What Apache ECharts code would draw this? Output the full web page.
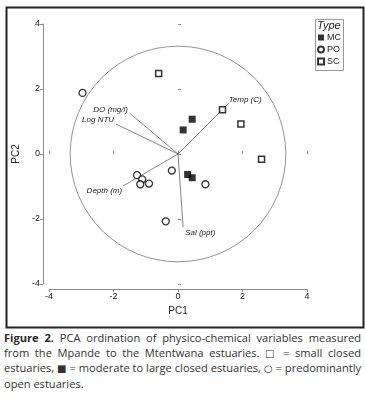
<!DOCTYPE html>
<html>
<head>
<meta charset="utf-8">
<script src="https://cdn.jsdelivr.net/npm/echarts@6/dist/echarts.min.js"></script>
<style>
  html, body { margin: 0; padding: 0; background: #fff; }
  #wrap { position: relative; width: 365px; height: 396px; }
  #chart { position: absolute; left: 0; top: 0; width: 365px; height: 330px; }
  #caption {
    position: absolute; left: 4px; top: 331px; width: 357px;
    font-family: "Open Sans", "Noto Sans", sans-serif; font-size: 11.1px;
    line-height: 14.6px; color: #333; text-align: justify;
  }
  #caption b { color: #2a2a2a; }
  #caption .sym { font-family: "DejaVu Sans", sans-serif; font-size: 10px; }
</style>
</head>
<body>
<div id="wrap">
  <div id="chart"></div>
  <div id="caption"><b>Figure 2.</b> PCA ordination of physico-chemical variables measured from the Mpande to the Mtentwana estuaries. <span class="sym">□</span> = small closed estuaries, <span class="sym">■</span> = moderate to large closed estuaries, <span class="sym">○</span> = predominantly open estuaries.</div>
</div>
<script>
// 样点坐标 (PC1, PC2)
const mcPoints = [[0.16, 0.74], [0.44, 1.07], [0.30, -0.63], [0.44, -0.73]]
const poPoints = [[-2.96, 1.88], [-1.27, -0.65], [-1.11, -0.78], [-1.17, -0.93], [-0.90, -0.91], [-0.19, -0.51], [0.85, -0.93], [-0.38, -2.07]]
const scPoints = [[-0.60, 2.48], [1.38, 1.36], [1.95, 0.92], [2.59, -0.16]]

// 环境变量向量
const vectorNames = ['Temp (C)', 'DO (mg/l)', 'Log NTU', 'Depth (m)', 'Sal (ppt)']
const vectorX = [1.57, -1.49, -1.92, -1.70, 0.16]
const vectorY = [1.56, 1.25, 0.92, -0.98, -2.26]

const circleRadius = 3.33
const axisMin = -4
const axisMax = 4
const axisStep = 2

// 标签摆放（对齐方式、偏移）
const labelPlace = [
  { align: 'left', va: 'bottom', dx: 0, dy: 0 },
  { align: 'right', va: 'bottom', dx: -2, dy: 0 },
  { align: 'right', va: 'bottom', dx: -2, dy: 0 },
  { align: 'right', va: 'top', dx: -1, dy: 1 },
  { align: 'left', va: 'top', dx: 2, dy: 1 }
]

const chart = echarts.init(document.getElementById('chart'))
const fontFam = 'Liberation Sans, Arial, sans-serif'
const tickFont = { fontFamily: fontFam, fontSize: 9, color: '#222' }

const vectorData = vectorNames.map((n, i) => [vectorX[i], vectorY[i], i])

const option = {
  animation: false,
  grid: { left: 49, top: 24, width: 258, height: 260 },
  xAxis: [
    {
      type: 'value', min: axisMin, max: axisMax, interval: axisStep, offset: 5,
      splitLine: { show: false },
      axisLine: { show: true, onZero: false, lineStyle: { color: '#8a8a8a', width: 1 } },
      axisTick: { show: true, length: 3, lineStyle: { color: '#8a8a8a' } },
      axisLabel: { ...tickFont, margin: 3 },
      name: 'PC1', nameLocation: 'middle', nameGap: 17,
      nameTextStyle: { fontFamily: fontFam, fontSize: 10, color: '#222' }
    },
    {
      type: 'value', min: axisMin, max: axisMax, interval: axisStep, offset: 5, position: 'bottom',
      splitLine: { show: false }, axisLine: { show: false },
      axisTick: { show: true, inside: true, length: 3, lineStyle: { color: '#8a8a8a' } },
      axisLabel: { show: false }
    }
  ],
  yAxis: [
    {
      type: 'value', min: axisMin, max: axisMax, interval: axisStep, offset: 6,
      splitLine: { show: false },
      axisLine: { show: true, onZero: false, lineStyle: { color: '#8a8a8a', width: 1 } },
      axisTick: { show: true, length: 3, lineStyle: { color: '#8a8a8a' } },
      axisLabel: { ...tickFont, margin: 3 },
      name: 'PC2', nameLocation: 'middle', nameGap: 20,
      nameTextStyle: { fontFamily: fontFam, fontSize: 10, color: '#222' }
    },
    {
      type: 'value', min: axisMin, max: axisMax, interval: axisStep, offset: 6, position: 'left',
      splitLine: { show: false }, axisLine: { show: false },
      axisTick: { show: true, inside: true, length: 3, lineStyle: { color: '#8a8a8a' } },
      axisLabel: { show: false }
    }
  ],
  legend: {
    orient: 'vertical', left: 317, top: 33, padding: 0, itemGap: 3, itemWidth: 6, itemHeight: 6,
    data: ['MC', 'PO', 'SC'],
    textStyle: { fontFamily: fontFam, fontSize: 9, color: '#222', padding: [0, 0, 0, -2] }
  },
  graphic: [
    { type: 'rect', left: 4, top: 5, shape: { width: 357, height: 320 }, style: { fill: 'none', stroke: '#222', lineWidth: 2 }, silent: true },
    { type: 'rect', left: 315, top: 19, shape: { width: 28, height: 51 }, style: { fill: '#fff', stroke: '#999', lineWidth: 1 }, z: -1, silent: true },
    { type: 'text', left: 317, top: 20, style: { text: 'Type', font: 'italic 11px Liberation Sans, Arial, sans-serif', fill: '#222' } }
  ],
  series: [
    {
      name: 'circle', type: 'custom', silent: true, z: 1,
      data: [[0, 0, circleRadius]],
      renderItem: (params, api) => {
        const c = api.coord([api.value(0), api.value(1)])
        const r = api.size([api.value(2), api.value(2)])
        return {
          type: 'circle',
          shape: { cx: c[0], cy: c[1], r: (r[0] + r[1]) / 2 },
          style: { fill: 'none', stroke: '#777', lineWidth: 0.8 }
        }
      }
    },
    {
      name: 'vectors', type: 'custom', silent: true, z: 2,
      data: vectorData,
      renderItem: (params, api) => {
        const o = api.coord([0, 0])
        const e = api.coord([api.value(0), api.value(1)])
        const i = api.value(2)
        const p = labelPlace[i]
        return {
          type: 'group',
          children: [
            { type: 'line', shape: { x1: o[0], y1: o[1], x2: e[0], y2: e[1] }, style: { stroke: '#666', lineWidth: 0.8 } },
            {
              type: 'text', x: e[0] + p.dx, y: e[1] + p.dy,
              style: { text: vectorNames[i], align: p.align, verticalAlign: p.va, font: 'italic 8px Liberation Sans, Arial, sans-serif', fill: '#222' }
            }
          ]
        }
      }
    },
    {
      name: 'MC', type: 'scatter', data: mcPoints, symbol: 'rect', symbolSize: 7, z: 3,
      itemStyle: { color: '#000', borderColor: '#000', borderWidth: 0 }
    },
    {
      name: 'PO', type: 'scatter', data: poPoints, symbol: 'circle', symbolSize: 7, z: 3,
      itemStyle: { color: '#fff', borderColor: '#000', borderWidth: 1.3 }
    },
    {
      name: 'SC', type: 'scatter', data: scPoints, symbol: 'rect', symbolSize: 6, z: 3,
      itemStyle: { color: '#fff', borderColor: '#000', borderWidth: 1.5 }
    }
  ]
}

chart.setOption(option)
</script>
</body>
</html>
